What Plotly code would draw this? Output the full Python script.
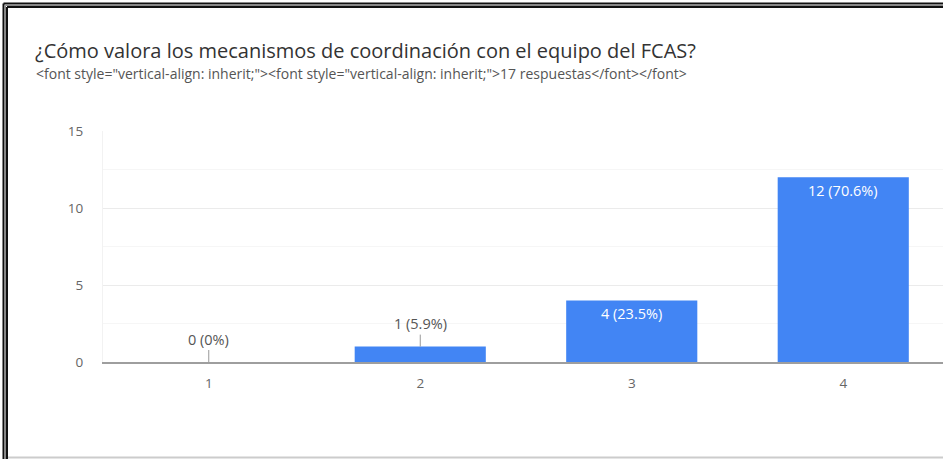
import plotly.graph_objects as go

categories = [1, 2, 3, 4]
counts = [0, 1, 4, 12]
total = 17
y_ticks = [0, 5, 10, 15]

title_text = "¿Cómo valora los mecanismos de coordinación con el equipo del FCAS?"
subtitle_text = ('&lt;font style="vertical-align: inherit;"&gt;&lt;font style="vertical-align: inherit;"&gt;'
                 '17 respuestas&lt;/font&gt;&lt;/font&gt;')

W, H = 943, 459
ML, MR, MT, MB = 103, 0, 131, 97
PW, PH = W - ML - MR, H - MT - MB
FONT = "Open Sans, Roboto, Arial, sans-serif"


def px_x(p):
    return (p - ML) / PW


def px_y(p):
    return (H - MB - p) / PH


def pct_label(v):
    p = round(100 * v / total, 1)
    s = f"{p:.1f}".rstrip("0").rstrip(".")
    return f"{v} ({s}%)"


BLUE = "#4285f4"
fig = go.Figure()
fig.add_trace(go.Bar(x=categories, y=counts, width=0.62, marker=dict(color=BLUE, line=dict(width=0)),
                     hoverinfo="skip"))

annotations = []
for c, v in zip(categories, counts):
    lab = pct_label(v)
    if v < 3:
        annotations.append(dict(x=c, y=v, xref="x", yref="y", text=lab, showarrow=True,
                                arrowhead=0, arrowwidth=1, arrowcolor="#999999", ax=0, ay=-23,
                                font=dict(family=FONT, size=14.5, color="#555555")))
    else:
        annotations.append(dict(x=c, y=v, xref="x", yref="y", text=lab, showarrow=False,
                                yanchor="top", yshift=-2,
                                font=dict(family=FONT, size=14.5, color="#ffffff")))

annotations.append(dict(x=px_x(33), y=px_y(50), xref="paper", yref="paper", xanchor="left", yanchor="middle",
                        text=title_text, showarrow=False,
                        font=dict(family=FONT, size=20, color="#333333")))
annotations.append(dict(x=px_x(34), y=px_y(73), xref="paper", yref="paper", xanchor="left", yanchor="middle",
                        text=subtitle_text, showarrow=False,
                        font=dict(family=FONT, size=14, color="#555555")))

shapes = []
# double border left / top
for (x0, w, col) in [(3.5, 2, "#111111"), (5.5, 1, "#888888"), (7, 2, "#111111")]:
    shapes.append(dict(type="line", xref="paper", yref="paper", x0=px_x(x0), x1=px_x(x0),
                       y0=px_y(x0), y1=px_y(H), line=dict(color=col, width=w)))
    shapes.append(dict(type="line", xref="paper", yref="paper", x0=px_x(x0), x1=px_x(W),
                       y0=px_y(x0), y1=px_y(x0), line=dict(color=col, width=w)))
shapes.append(dict(type="line", xref="paper", yref="paper", x0=px_x(8), x1=px_x(W),
                   y0=px_y(457.5), y1=px_y(457.5), line=dict(color="#cccccc", width=2)))

fig.update_layout(
    width=W, height=H,
    margin=dict(l=ML, r=MR, t=MT, b=MB, pad=0),
    paper_bgcolor="white", plot_bgcolor="white",
    showlegend=False,
    annotations=annotations,
    shapes=shapes,
    xaxis=dict(range=[0.5, 0.5 + PW / 211.5], tickvals=categories, ticktext=[str(c) for c in categories],
               showgrid=False, zeroline=False, showline=True, linecolor="#9e9e9e", linewidth=2,
               ticks="", ticklabelstandoff=8,
               tickfont=dict(family=FONT, size=13.5, color="#666666"), fixedrange=True),
    yaxis=dict(range=[0, 15], tickvals=y_ticks, ticktext=[str(t) for t in y_ticks],
               showgrid=True, gridcolor="#ebebeb", gridwidth=1, zeroline=False,
               showline=True, linecolor="#f2f2f2", linewidth=1, ticks="", ticklabelstandoff=16,
               minor=dict(dtick=2.5, tick0=0, showgrid=True, gridcolor="#f6f6f6", gridwidth=1, ticks=""),
               tickfont=dict(family=FONT, size=13.5, color="#666666"), fixedrange=True),
)

fig.write_html("out.html", config={"displayModeBar": False},
               post_script="document.body.style.margin='0';document.body.style.overflow='hidden';")
